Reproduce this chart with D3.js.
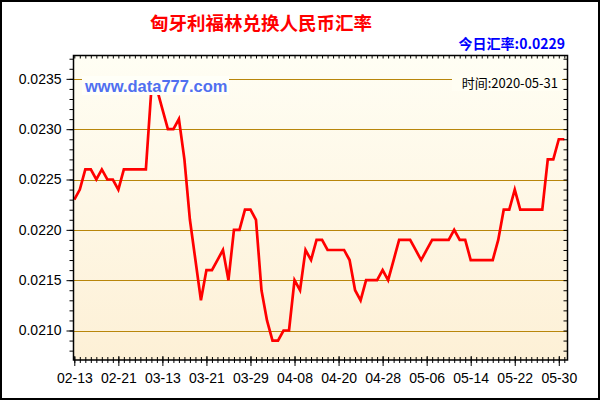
<!DOCTYPE html>
<html><head><meta charset="utf-8">
<script src="https://cdn.jsdelivr.net/npm/d3@7"></script>
<style>
html,body{margin:0;padding:0;background:#fff;}
svg{display:block;}
</style></head>
<body>
<svg id="chart" width="600" height="400"></svg>
<script>
const titleText = "匈牙利福林兑换人民币汇率";
const todayText = "今日汇率:0.0229";
const timeText = "时间:2020-05-31";
const watermark = "www.data777.com";
const xTickLabels = ["02-13","02-21","03-13","03-21","03-29","04-08","04-20","04-28","05-06","05-14","05-22","05-30"];
const xTickIndex = [0,8,16,24,32,40,48,56,64,72,80,88];
const yTicks = [0.0210,0.0215,0.0220,0.0225,0.0230,0.0235];
const rates = [
0.0223,0.0224,0.0226,0.0226,0.0225,0.0226,0.0225,0.0225,0.0224,0.0226,
0.0226,0.0226,0.0226,0.0226,0.0234,0.0234,0.0232,0.0230,0.0230,0.0231,
0.0227,0.0221,0.0217,0.0213,0.0216,0.0216,0.0217,0.0218,0.0215,0.0220,
0.0220,0.0222,0.0222,0.0221,0.0214,0.0211,0.0209,0.0209,0.0210,0.0210,
0.0215,0.0214,0.0218,0.0217,0.0219,0.0219,0.0218,0.0218,0.0218,0.0218,
0.0217,0.0214,0.0213,0.0215,0.0215,0.0215,0.0216,0.0215,0.0217,0.0219,
0.0219,0.0219,0.0218,0.0217,0.0218,0.0219,0.0219,0.0219,0.0219,0.0220,
0.0219,0.0219,0.0217,0.0217,0.0217,0.0217,0.0217,0.0219,0.0222,0.0222,
0.0224,0.0222,0.0222,0.0222,0.0222,0.0222,0.0227,0.0227,0.0229,0.0229
];

const svg = d3.select("#chart");
const L = 73.5, R = 567.5, T = 55.5, B = 360;

// outer frame
svg.append("rect").attr("x",1).attr("y",1).attr("width",598).attr("height",398)
  .attr("fill","#fff").attr("stroke","#000").attr("stroke-width",2);

const defs = svg.append("defs");
const grad = defs.append("linearGradient").attr("id","bg").attr("x1",0).attr("y1",0).attr("x2",0).attr("y2",1);
grad.append("stop").attr("offset","0%").attr("stop-color","#fffef4");
grad.append("stop").attr("offset","100%").attr("stop-color","#fdf0d6");
defs.append("clipPath").attr("id","clip").append("rect")
  .attr("x",L).attr("y",T).attr("width",R-L).attr("height",B-T);

svg.append("rect").attr("x",L).attr("y",T).attr("width",R-L).attr("height",B-T).attr("fill","url(#bg)");

const x = d3.scaleLinear().domain([0, rates.length-1]).range([74.3, 564.3]);
const y = d3.scaleLinear().domain([0.020707, 0.023732]).range([B, T]);

// gridlines
svg.append("g").selectAll("line").data(yTicks).join("line")
  .attr("x1",L).attr("x2",R).attr("y1",d=>Math.round(y(d))+0.5).attr("y2",d=>Math.round(y(d))+0.5)
  .attr("stroke","#b8860b").attr("stroke-width",1);

// line
svg.append("path").datum(rates)
  .attr("clip-path","url(#clip)")
  .attr("fill","none").attr("stroke","#ff0000").attr("stroke-width",2.7).attr("stroke-linejoin","miter")
  .attr("d", d3.line().x((d,i)=>x(i)).y(d=>y(d)));

// minor ticks
const yMinor = d3.range(0.0208, 0.02372, 0.0001).map(v=>+v.toFixed(4));
const allIdx = d3.range(rates.length);
const fontLat = "Liberation Sans, Arial, sans-serif";

// left axis
const leftAx = svg.append("g").attr("transform",`translate(${L},0)`);
leftAx.call(d3.axisLeft(y).tickValues(yMinor).tickSize(4).tickFormat(""));
leftAx.call(g=>g.select(".domain").remove());
const leftMajor = svg.append("g").attr("transform",`translate(${L},0)`)
  .call(d3.axisLeft(y).tickValues(yTicks).tickSize(7).tickPadding(5).tickFormat(d3.format(".4f")));
leftMajor.select(".domain").remove();
leftMajor.selectAll("text").attr("font-family",fontLat).attr("font-size",14).attr("fill","#000");

// right axis (ticks inward)
const rightAx = svg.append("g").attr("transform",`translate(${R},0)`)
  .call(d3.axisRight(y).tickValues(yMinor).tickSize(-4).tickFormat(""));
rightAx.select(".domain").remove();

// top axis (ticks inward)
const topAx = svg.append("g").attr("transform",`translate(0,${T})`)
  .call(d3.axisTop(x).tickValues(allIdx).tickSize(-3).tickFormat(""));
topAx.select(".domain").remove();

// bottom axis
const botAx = svg.append("g").attr("transform",`translate(0,${B})`)
  .call(d3.axisBottom(x).tickValues(allIdx).tickSize(3).tickFormat(""));
botAx.select(".domain").remove();
botAx.selectAll(".tick line").attr("y1",-3);
const botMajor = svg.append("g").attr("transform",`translate(0,${B})`)
  .call(d3.axisBottom(x).tickValues(xTickIndex).tickSize(6).tickPadding(7).tickFormat((d,i)=>xTickLabels[i]));
botMajor.select(".domain").remove();
botMajor.selectAll(".tick line").attr("y1",-4);
botMajor.selectAll("text").attr("font-family",fontLat).attr("font-size",14).attr("fill","#000");

// frame of plot
svg.append("rect").attr("x",L).attr("y",T).attr("width",R-L).attr("height",B-T)
  .attr("fill","none").attr("stroke","#000").attr("stroke-width",1.5);

// watermark
const wm = svg.append("g");
wm.append("rect").attr("x",82).attr("y",76).attr("width",147).attr("height",19).attr("fill","#fffff8");
wm.append("text").attr("x",85).attr("y",92).text(watermark)
  .attr("font-family",fontLat).attr("font-weight","bold").attr("font-size",16.5).attr("fill","#5070f0");

// time label
svg.append("rect").attr("x",452).attr("y",74).attr("width",110).attr("height",17).attr("fill","#fffef3");
svg.append("text").attr("x",558).attr("y",88).attr("text-anchor","end").text(timeText)
  .attr("font-family","Noto Sans CJK SC, sans-serif").attr("font-size",13).attr("fill","#000");

// title
svg.append("text").attr("x",261).attr("y",30).attr("text-anchor","middle").text(titleText)
  .attr("font-family","Noto Sans CJK SC, sans-serif").attr("font-weight","bold").attr("font-size",18.5).attr("fill","#ff0000");

svg.append("text").attr("x",565).attr("y",49).attr("text-anchor","end").text(todayText)
  .attr("font-family","Noto Sans CJK SC, sans-serif").attr("font-weight","bold").attr("font-size",14).attr("fill","#0000ff");
</script>
</body></html>
